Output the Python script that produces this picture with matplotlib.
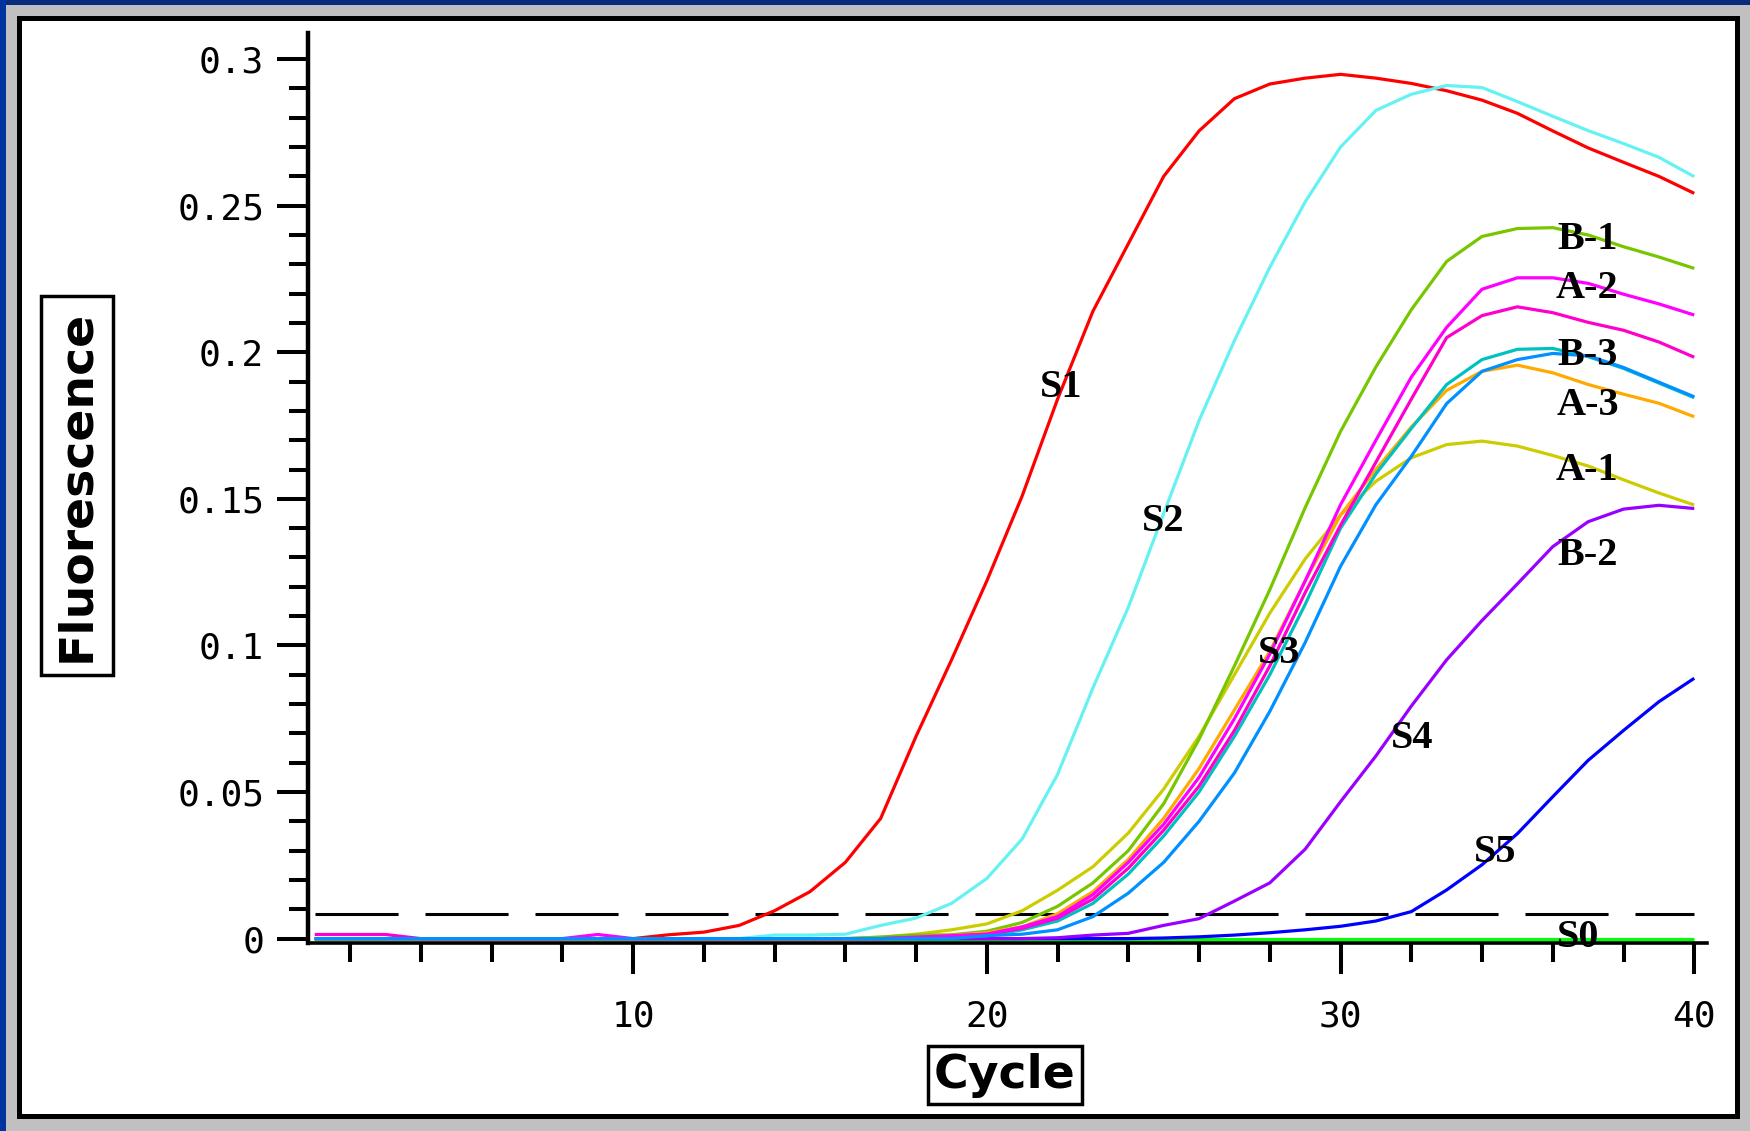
import matplotlib.pyplot as plt
from matplotlib.patches import Rectangle

# ---- data ----
cycles = list(range(1, 41))

s1 = [0, 0, 0, 0, 0, 0, 0, 0, 0, 0,
      0.0013, 0.0022, 0.0045, 0.0095, 0.016, 0.026, 0.041, 0.069, 0.095, 0.122,
      0.151, 0.184, 0.214, 0.237, 0.260, 0.2755, 0.2865, 0.2915, 0.2935, 0.2948,
      0.2935, 0.2917, 0.2892, 0.286, 0.2815, 0.2755, 0.2697, 0.2648, 0.2600, 0.2542]
s2 = [0, 0, 0, 0, 0, 0, 0, 0, 0, 0,
      0, 0, 0, 0.0012, 0.0012, 0.0015, 0.0045, 0.007, 0.012, 0.0205,
      0.034, 0.056, 0.0855, 0.113, 0.145, 0.1767, 0.204, 0.229, 0.2513, 0.270,
      0.2825, 0.288, 0.291, 0.2903, 0.2855, 0.2805, 0.2756, 0.2712, 0.2665, 0.2599]
b1 = [0, 0, 0, 0, 0, 0, 0, 0, 0, 0,
      0, 0, 0, 0, 0, 0, 0.0005, 0.0012, 0.0013, 0.0025,
      0.0055, 0.011, 0.019, 0.030, 0.046, 0.068, 0.093, 0.119, 0.147, 0.173,
      0.195, 0.2145, 0.231, 0.2395, 0.2422, 0.2425, 0.240, 0.236, 0.2325, 0.2286]
a1 = [0, 0, 0, 0, 0, 0, 0, 0, 0, 0,
      0, 0, 0, 0, 0, 0, 0.0005, 0.0015, 0.003, 0.005,
      0.0095, 0.0165, 0.0245, 0.036, 0.051, 0.069, 0.090, 0.111, 0.1295, 0.1445,
      0.156, 0.164, 0.1685, 0.1697, 0.168, 0.1648, 0.1612, 0.1565, 0.152, 0.1479]
a3 = [0, 0, 0, 0, 0, 0, 0, 0, 0, 0,
      0, 0, 0, 0, 0, 0, 0, 0, 0.001, 0.002,
      0.004, 0.0085, 0.016, 0.027, 0.041, 0.058, 0.078, 0.098, 0.122, 0.1445,
      0.160, 0.1745, 0.187, 0.1935, 0.1956, 0.193, 0.189, 0.1857, 0.1826, 0.178]
a2 = [0, 0, 0, 0, 0, 0, 0, 0, 0.0014, 0,
      0, 0, 0, 0, 0, 0, 0, 0.0005, 0.001, 0.0015,
      0.004, 0.0075, 0.015, 0.026, 0.039, 0.055, 0.075, 0.097, 0.122, 0.148,
      0.170, 0.1915, 0.2085, 0.2215, 0.2254, 0.2254, 0.2235, 0.2198, 0.2165, 0.2127]
s3 = [0.0014, 0.0014, 0.0014, 0, 0, 0, 0, 0, 0, 0,
      0, 0, 0, 0, 0, 0, 0, 0.0003, 0.0008, 0.0015,
      0.0035, 0.007, 0.0135, 0.024, 0.037, 0.052, 0.071, 0.093, 0.118, 0.141,
      0.1625, 0.184, 0.205, 0.2125, 0.2155, 0.2135, 0.2102, 0.2075, 0.2035, 0.1983]
b3 = [0, 0, 0, 0, 0, 0, 0, 0, 0, 0,
      0, 0, 0, 0, 0, 0, 0, 0, 0.0005, 0.001,
      0.003, 0.006, 0.012, 0.022, 0.035, 0.050, 0.069, 0.090, 0.114, 0.140,
      0.1585, 0.174, 0.189, 0.1975, 0.2010, 0.2013, 0.1985, 0.1945, 0.1895, 0.1845]
b3b = [0, 0, 0, 0, 0, 0, 0, 0, 0, 0,
       0, 0, 0, 0, 0, 0, 0, 0, 0, 0.001,
       0.0015, 0.003, 0.0075, 0.0155, 0.026, 0.040, 0.0565, 0.0775, 0.101, 0.127,
       0.148, 0.1645, 0.1825, 0.1935, 0.1975, 0.1996, 0.1988, 0.1948, 0.1898, 0.1848]
s4 = [0, 0, 0, 0, 0, 0, 0, 0, 0, 0,
      0, 0, 0, 0, 0, 0, 0, 0, 0, 0,
      0, 0.0003, 0.0012, 0.0018, 0.0045, 0.0068, 0.0128, 0.019, 0.0305, 0.0467,
      0.0623, 0.0793, 0.0951, 0.1085, 0.121, 0.1337, 0.1422, 0.1465, 0.1478, 0.1467]
s5 = [0, 0, 0, 0, 0, 0, 0, 0, 0, 0,
      0, 0, 0, 0, 0, 0, 0, 0, 0, 0,
      0, 0, 0, 0, 0.0002, 0.0006, 0.0012, 0.002, 0.003, 0.0042,
      0.006, 0.0092, 0.0166, 0.0252, 0.0358, 0.0484, 0.0608, 0.071, 0.0808, 0.0888]
s0 = [0] * 40
threshold = 0.0085

yticks = [0, 0.05, 0.1, 0.15, 0.2, 0.25, 0.3]
ytick_labels = ["0", "0.05", "0.1", "0.15", "0.2", "0.25", "0.3"]
xticks = [10, 20, 30, 40]
xtick_labels = ["10", "20", "30", "40"]

# drawing order: bottom first
series = [
    (s0, "#00ff00"),
    (s5, "#0000ff"),
    (s4, "#9900ff"),
    (s1, "#ff0000"),
    (s2, "#66f2f2"),
    (a1, "#cccc00"),
    (b1, "#77c600"),
    (a3, "#ffaa00"),
    (b3, "#00c0c0"),
    (s3, "#ff00cc"),
    (a2, "#ff00ff"),
    (b3b, "#0090ff"),
]

curve_labels = [
    ("S1", 22.1, 0.188), ("S2", 24.98, 0.1424), ("S3", 28.26, 0.0971),
    ("S4", 32.02, 0.0684), ("S5", 34.37, 0.0292), ("S0", 36.72, 0.0005),
    ("B-1", 36.98, 0.2386), ("A-2", 36.98, 0.2219), ("B-3", 36.98, 0.199),
    ("A-3", 36.98, 0.182), ("A-1", 36.98, 0.1595), ("B-2", 36.98, 0.1308),
]

W, H = 1750, 1131
plt.rcParams["lines.scale_dashes"] = False
fig = plt.figure(figsize=(W / 100, H / 100), dpi=100, facecolor="#c0c0c0")

# window frame (behind the axes)
fig.patches.append(Rectangle((0, 1 - 5 / H), 1, 5 / H, transform=fig.transFigure,
                             fc="#0a2c7c", ec="none", zorder=-3))
fig.patches.append(Rectangle((0, 0), 6 / W, 1, transform=fig.transFigure,
                             fc="#0033a0", ec="none", zorder=-3))
fig.patches.append(Rectangle((19 / W, 15 / H), (1737 - 19) / W, (1116 - 17.5) / H,
                             transform=fig.transFigure, fc="white", ec="black",
                             lw=3.6, zorder=-2))

ax = fig.add_axes([308 / W, 1 - 943 / H, (1707 - 308) / W, (943 - 33) / H])
ax.set_facecolor("none")
ax.set_zorder(1)
ax.set_xlim(0.81, 40.36)
ax.set_ylim(-0.0015, 0.3089)

ax.plot([cycles[0], cycles[-1]], [threshold, threshold], color="black",
        lw=2.2, linestyle=(0, (59.8, 19.4)), zorder=1.5)

for vals, col in series:
    ax.plot(cycles, vals, color=col, lw=2.3, solid_capstyle="butt", zorder=2)

for text, cx, cy in curve_labels:
    ax.text(cx, cy, text, fontsize=29, fontweight="bold", family="Liberation Serif",
            ha="center", va="center", color="black", zorder=5)

for side in ["top", "right"]:
    ax.spines[side].set_visible(False)
ax.spines["left"].set_linewidth(3.2)
ax.spines["bottom"].set_linewidth(2.6)

ax.set_yticks(yticks)
ax.set_yticklabels(ytick_labels)
ax.set_yticks([i / 100 for i in range(0, 31) if i % 5 != 0], minor=True)
ax.set_xticks(xticks)
ax.set_xticklabels(xtick_labels)
ax.set_xticks([i for i in range(2, 40, 2) if i % 10 != 0], minor=True)

ax.tick_params(axis="both", which="major", direction="out", length=22.5, width=2.9,
               labelsize=26, color="black")
ax.tick_params(axis="both", which="minor", direction="out", length=13.5, width=2.9)
ax.tick_params(axis="y", which="major", pad=9)
ax.tick_params(axis="x", which="major", pad=18.5)
for lab in ax.get_xticklabels() + ax.get_yticklabels():
    lab.set_family("DejaVu Sans Mono")

fig.text(77 / W, 1 - 485.5 / H, "Fluorescence", rotation=90, fontsize=34,
         fontweight="bold", ha="center", va="center",
         bbox=dict(boxstyle="square,pad=0.28", fc="white", ec="black", lw=2.5))
fig.text(1005 / W, 1 - 1075 / H, "Cycle", fontsize=34, fontweight="bold",
         ha="center", va="center",
         bbox=dict(boxstyle="square,pad=0.13", fc="white", ec="black", lw=2.5))

fig.savefig("out.png", dpi=100, facecolor=fig.get_facecolor())
plt.close(fig)
